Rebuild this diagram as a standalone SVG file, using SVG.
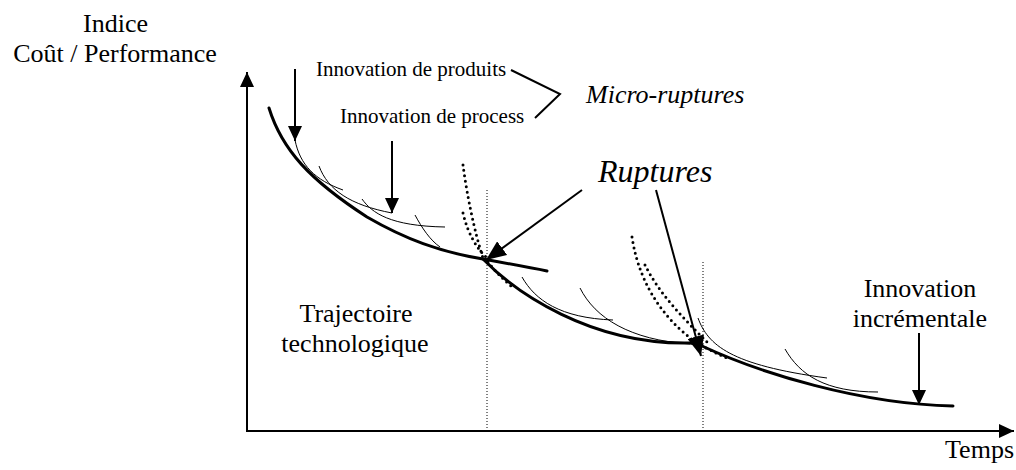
<svg xmlns="http://www.w3.org/2000/svg" width="1016" height="470" viewBox="0 0 1016 470">
<style>
.t{fill:#000}
.big{font-size:26px}
.sm{font-size:21px}
.it{font-style:italic}
.axis{stroke:#000;stroke-width:2;fill:none}
.arr{stroke:#000;stroke-width:2;fill:none}
.thick{stroke:#000;stroke-width:3;fill:none;stroke-linecap:round}
.thin{stroke:#000;stroke-width:1;fill:none}
.dots{stroke:#000;stroke-width:3;fill:none;stroke-dasharray:0 5.5;stroke-linecap:round}
.vdot{stroke:#000;stroke-width:1;fill:none;stroke-dasharray:1 2}
</style>
<defs>
<marker id="ah" viewBox="0 0 15 14" refX="15" refY="7" markerWidth="15" markerHeight="14" markerUnits="userSpaceOnUse" orient="auto">
<path d="M0,0 L15,7 L0,14 z" fill="#000"/>
</marker>
<marker id="ahl" viewBox="0 0 20 17" refX="20" refY="8.5" markerWidth="20" markerHeight="17" markerUnits="userSpaceOnUse" orient="auto">
<path d="M0,0 L20,8.5 L0,17 z" fill="#000"/>
</marker>
</defs>
<rect width="1016" height="470" fill="#fff"/>

<g id="axes">
<path class="axis" d="M247,432 L247,72" marker-end="url(#ah)"/>
<path class="axis" d="M246,431 L1014,431" marker-end="url(#ah)"/>
</g>

<g id="trajectory">
<path class="thick" d="M269,108 C282,150 310,180 367,217 C405,239 440,252 483,259 C505,263 527,267 547,271"/>
<path class="thick" d="M483,259 C515,292 590,345 690,343 L702,345"/>
<path class="thick" d="M702,346 C760,373 860,404 953,406"/>
</g>

<g id="incremental-curves">
<path class="thin" d="M295,140 C300,165 315,180 343,190"/>
<path class="thin" d="M319,166 C328,190 350,205 392,213"/>
<path class="thin" d="M362,199 C372,213 390,226 445,227"/>
<path class="thin" d="M415,215 C422,228 430,240 440,247"/>
<path class="thin" d="M522,277 C535,300 560,318 613,320"/>
<path class="thin" d="M580,288 C595,318 630,340 690,344"/>
<path class="thin" d="M698,318 C708,345 730,365 827,378"/>
<path class="thin" d="M785,349 C800,375 825,392 878,392"/>
</g>

<g id="rupture-curves">
<path class="dots" d="M463,165 C467,195 474,230 483,258"/>
<path class="dots" d="M463,213 C468,235 478,250 488,259"/>
<path class="dots" d="M488,262 C495,271 503,279 512,287"/>
<path class="dots" d="M632,237 C640,290 670,325 700,345"/>
<path class="dots" d="M645,265 C660,295 685,320 710,345"/>
<path class="dots" d="M706,348 C714,352 720,355 727,358"/>
<path class="vdot" d="M487,190 L487,431"/>
<path class="vdot" d="M703,262 L703,431"/>
</g>

<g id="connectors">
<path class="arr" d="M295,69 L295,141" marker-end="url(#ah)"/>
<path class="arr" d="M392,141 L392,213" marker-end="url(#ah)"/>
<path class="arr" d="M582,190 L486,260" marker-end="url(#ahl)"/>
<path class="arr" d="M656,190 L701,356" marker-end="url(#ahl)"/>
<path class="arr" d="M919,333 L919,405" marker-end="url(#ah)"/>
<polyline class="arr" points="511,70 560,94 535,118"/>
</g>

<g font-family="'Liberation Serif', serif">
<g id="label-y">
<text class="t big" x="115.5" y="32" text-anchor="middle">Indice</text>
<text class="t big" x="115" y="62" text-anchor="middle">Coût / Performance</text>
</g>
<g id="label-x">
<text class="t big" x="1014" y="458" text-anchor="end">Temps</text>
</g>
<g id="label-produits">
<text class="t sm" x="316" y="75.5">Innovation de produits</text>
</g>
<g id="label-process">
<text class="t sm" x="340" y="123">Innovation de process</text>
</g>
<g id="label-micro">
<text class="t big it" x="586" y="103">Micro-ruptures</text>
</g>
<g id="label-ruptures">
<text class="t it" font-size="32" x="598" y="182">Ruptures</text>
</g>
<g id="label-trajectoire">
<text class="t big" x="356" y="322" text-anchor="middle">Trajectoire</text>
<text class="t big" x="355" y="352" text-anchor="middle">technologique</text>
</g>
<g id="label-incrementale">
<text class="t big" x="920" y="297" text-anchor="middle">Innovation</text>
<text class="t big" x="920" y="327" text-anchor="middle">incrémentale</text>
</g>
</g>
</svg>
